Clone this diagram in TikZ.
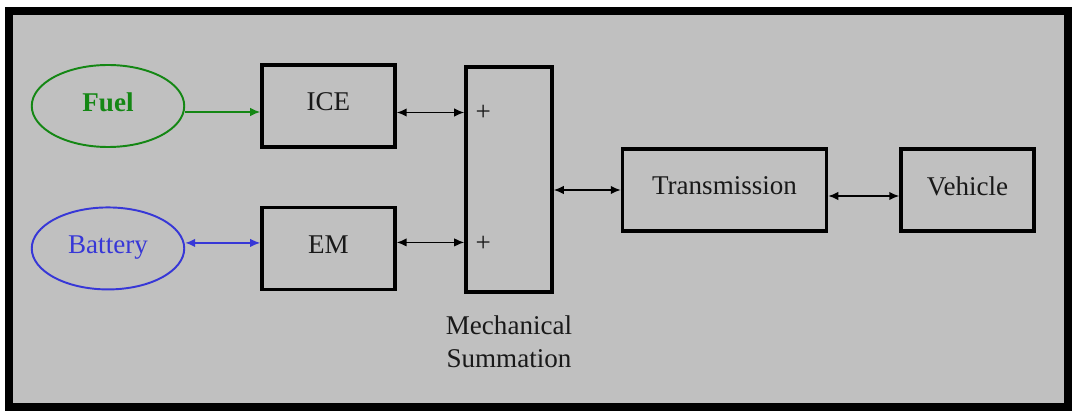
\documentclass[tikz,border=0pt]{standalone}
\usepackage{fontspec}
\setmainfont{Liberation Serif}
\usetikzlibrary{arrows.meta,positioning,calc,shapes.geometric}
\definecolor{fuelgreen}{RGB}{20,135,20}
\definecolor{batblue}{RGB}{55,55,215}
\definecolor{framegray}{RGB}{192,192,192}
\definecolor{inkgray}{RGB}{25,25,25}

\begin{document}
\begin{tikzpicture}[
  font=\fontsize{15.4}{18.5}\selectfont,
  block/.style={draw, line width=2pt, inner sep=0pt, text depth=0.16cm, minimum width=2.66cm, minimum height=1.64cm, text=inkgray},
  source/.style={ellipse, draw, line width=1.1pt, inner sep=0pt, text depth=0.16cm, minimum width=3.05cm, minimum height=1.64cm},
  arr/.style={-{Latex[length=2mm,width=1.7mm]}, line width=0.9pt},
  biarr/.style={{Latex[length=2mm,width=1.7mm]}-{Latex[length=2mm,width=1.7mm]}, line width=0.9pt}
]
\useasboundingbox (0,0) rectangle (21.56,8.22);
\draw[line width=0.16cm, fill=framegray] (0.18,0.08) rectangle (21.36,8.0);

\node[source, fuelgreen, font=\fontsize{15.4}{18.5}\selectfont\bfseries] (fuel) at (2.16,6.10) {Fuel};
\node[source, batblue, below=1.17cm of fuel] (bat) {Battery};
\node[block, right=1.5cm of fuel] (ice) {ICE};
\node[block, right=1.5cm of bat] (em) {EM};
\node[draw, line width=2pt, minimum width=1.72cm, minimum height=4.5cm] (sum) at (10.18,4.63) {};
\node[block, minimum width=4.08cm, right=1.34cm of sum, yshift=-0.21cm] (trans) {Transmission};
\node[block, right=1.42cm of trans] (veh) {Vehicle};
\node[align=center, text=inkgray, below=0.32cm of sum] (sumlbl) {Mechanical\\Summation};

\coordinate (s1) at ([yshift=-0.13cm]ice.east -| sum.west);
\coordinate (s2) at ([yshift=0.12cm]em.east -| sum.west);
\node[text=inkgray] (p1) at ($(s1)+(0.38,0.0)$) {+};
\node[text=inkgray] (p2) at ($(s2)+(0.38,-0.02)$) {+};

\draw[arr, fuelgreen] ([yshift=-0.12cm]fuel.east) -- ([yshift=-0.12cm]ice.west);
\draw[biarr, batblue] ([yshift=0.11cm]bat.east) -- ([yshift=0.11cm]em.west);
\draw[biarr] ([yshift=-0.13cm]ice.east) -- (s1);
\draw[biarr] ([yshift=0.12cm]em.east) -- (s2);
\draw[biarr] (trans.west -| sum.east) -- (trans.west);
\draw[biarr] ([yshift=-0.12cm]trans.east) -- ([yshift=-0.12cm]veh.west);
\end{tikzpicture}
\end{document}
